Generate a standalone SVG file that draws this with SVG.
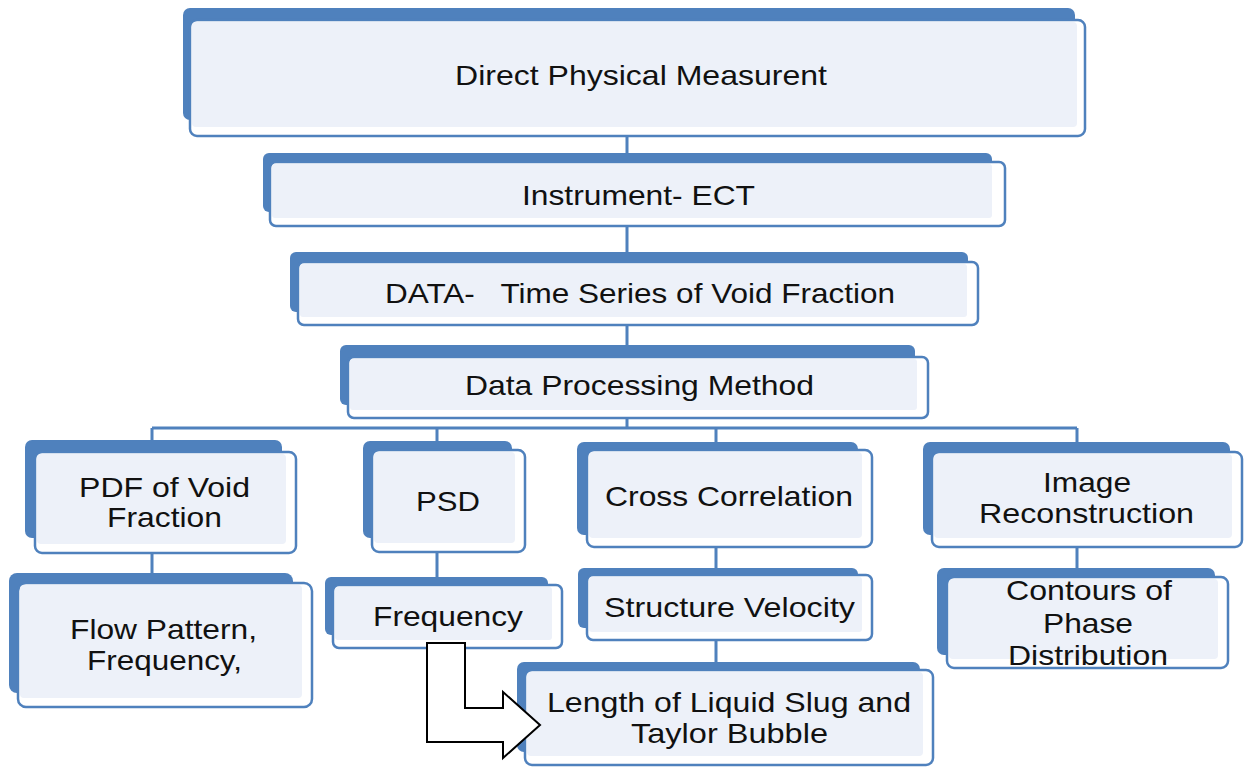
<svg xmlns="http://www.w3.org/2000/svg" width="1247" height="768" viewBox="0 0 1247 768">
<style>
.back{fill:#4f81bd}
.front{fill:#ffffff;stroke:#4f81bd;stroke-width:2.5}
.inner{fill:#edf1f9}
.t{font-family:"Liberation Sans",Arial,sans-serif;font-size:28px;fill:#111;text-anchor:middle;white-space:pre}
.c{stroke:#4f81bd;stroke-width:3;fill:none}
</style>
<rect width="1247" height="768" fill="#ffffff"/>
<g id="connectors">
<path class="c" d="M627 136V162M627 226V262M627 325V357M627 418V428M152 428H1077M152 428V452M437 428V450M716 428V450M1077 428V452M152 553V583M437 552V585M716 547V575M1077 547V577M716 640V670"/>
</g>
<g id="n1">
<rect class="back" x="183" y="8" width="892" height="112" rx="7"/>
<rect class="front" x="190" y="20" width="895" height="116" rx="7"/>
<rect class="inner" x="192" y="22" width="885" height="105" rx="4"/>
<text class="t" x="641" y="85" textLength="372" lengthAdjust="spacingAndGlyphs">Direct Physical Measurent</text>
</g>
<g id="n2">
<rect class="back" x="263" y="153" width="729" height="59" rx="6"/>
<rect class="front" x="270" y="162" width="735" height="64" rx="6"/>
<rect class="inner" x="272" y="164" width="720" height="54" rx="3"/>
<text class="t" x="638.5" y="205" textLength="233" lengthAdjust="spacingAndGlyphs">Instrument- ECT</text>
</g>
<g id="n3">
<rect class="back" x="290" y="252" width="678" height="60" rx="6"/>
<rect class="front" x="298" y="262" width="680" height="63" rx="6"/>
<rect class="inner" x="300" y="264" width="667" height="53" rx="3"/>
<text class="t" x="640" y="303" textLength="510" lengthAdjust="spacingAndGlyphs">DATA-   Time Series of Void Fraction</text>
</g>
<g id="n4">
<rect class="back" x="340" y="345" width="575" height="60" rx="6"/>
<rect class="front" x="348" y="357" width="580" height="61" rx="6"/>
<rect class="inner" x="350" y="359" width="567" height="51" rx="3"/>
<text class="t" x="639.5" y="395" textLength="349" lengthAdjust="spacingAndGlyphs">Data Processing Method</text>
</g>
<g id="n5">
<rect class="back" x="25" y="440" width="257" height="98" rx="7"/>
<rect class="front" x="35" y="452" width="261" height="101" rx="7"/>
<rect class="inner" x="37" y="454" width="249" height="90" rx="4"/>
<text class="t" x="164.5" y="497" textLength="171" lengthAdjust="spacingAndGlyphs">PDF of Void</text>
<text class="t" x="164.5" y="527" textLength="115" lengthAdjust="spacingAndGlyphs">Fraction</text>
</g>
<g id="n6">
<rect class="back" x="363" y="441" width="149" height="97" rx="7"/>
<rect class="front" x="372" y="450" width="153" height="102" rx="7"/>
<rect class="inner" x="374" y="452" width="141" height="91" rx="4"/>
<text class="t" x="448" y="511" textLength="64" lengthAdjust="spacingAndGlyphs">PSD</text>
</g>
<g id="n7">
<rect class="back" x="577" y="442" width="281" height="93" rx="7"/>
<rect class="front" x="587" y="450" width="285" height="97" rx="7"/>
<rect class="inner" x="589" y="452" width="273" height="86" rx="4"/>
<text class="t" x="729" y="506" textLength="248" lengthAdjust="spacingAndGlyphs">Cross Correlation</text>
</g>
<g id="n8">
<rect class="back" x="923" y="442" width="307" height="93" rx="7"/>
<rect class="front" x="932" y="452" width="310" height="95" rx="7"/>
<rect class="inner" x="934" y="454" width="298" height="84" rx="4"/>
<text class="t" x="1087" y="492" textLength="88" lengthAdjust="spacingAndGlyphs">Image</text>
<text class="t" x="1086.5" y="523" textLength="215" lengthAdjust="spacingAndGlyphs">Reconstruction</text>
</g>
<g id="n9">
<rect class="back" x="9" y="573" width="284" height="120" rx="8"/>
<rect class="front" x="18" y="583" width="294" height="124" rx="8"/>
<rect class="inner" x="20" y="585" width="282" height="113" rx="4"/>
<text class="t" x="163.5" y="639" textLength="187" lengthAdjust="spacingAndGlyphs">Flow Pattern,</text>
<text class="t" x="164.5" y="670" textLength="155" lengthAdjust="spacingAndGlyphs">Frequency,</text>
</g>
<g id="n10">
<rect class="back" x="325" y="577" width="223" height="58" rx="6"/>
<rect class="front" x="333" y="585" width="229" height="63" rx="6"/>
<rect class="inner" x="335" y="587" width="217" height="53" rx="3"/>
<text class="t" x="448" y="626" textLength="150" lengthAdjust="spacingAndGlyphs">Frequency</text>
</g>
<g id="n11">
<rect class="back" x="578" y="568" width="280" height="60" rx="6"/>
<rect class="front" x="587" y="575" width="285" height="65" rx="6"/>
<rect class="inner" x="589" y="577" width="273" height="55" rx="3"/>
<text class="t" x="729.5" y="617" textLength="251" lengthAdjust="spacingAndGlyphs">Structure Velocity</text>
</g>
<g id="n12">
<rect class="back" x="517" y="662" width="403" height="90" rx="7"/>
<rect class="front" x="525" y="670" width="408" height="95" rx="7"/>
<rect class="inner" x="527" y="672" width="396" height="84" rx="4"/>
<text class="t" x="729" y="712" textLength="364" lengthAdjust="spacingAndGlyphs">Length of Liquid Slug and</text>
<text class="t" x="729.5" y="743" textLength="197" lengthAdjust="spacingAndGlyphs">Taylor Bubble</text>
</g>
<g id="n13">
<rect class="back" x="937" y="568" width="278" height="87" rx="7"/>
<rect class="front" x="947" y="577" width="281" height="91" rx="7"/>
<rect class="inner" x="949" y="579" width="269" height="80" rx="4"/>
<text class="t" x="1089" y="600" textLength="166" lengthAdjust="spacingAndGlyphs">Contours of</text>
<text class="t" x="1088" y="633" textLength="90" lengthAdjust="spacingAndGlyphs">Phase</text>
<text class="t" x="1088" y="665" textLength="160" lengthAdjust="spacingAndGlyphs">Distribution</text>
</g>
<g id="bent-arrow">
<polygon points="427,643 465,643 465,708 503,708 503,692 540,725 503,758 503,742 427,742" fill="#ffffff" stroke="#000000" stroke-width="2"/>
</g>
</svg>
